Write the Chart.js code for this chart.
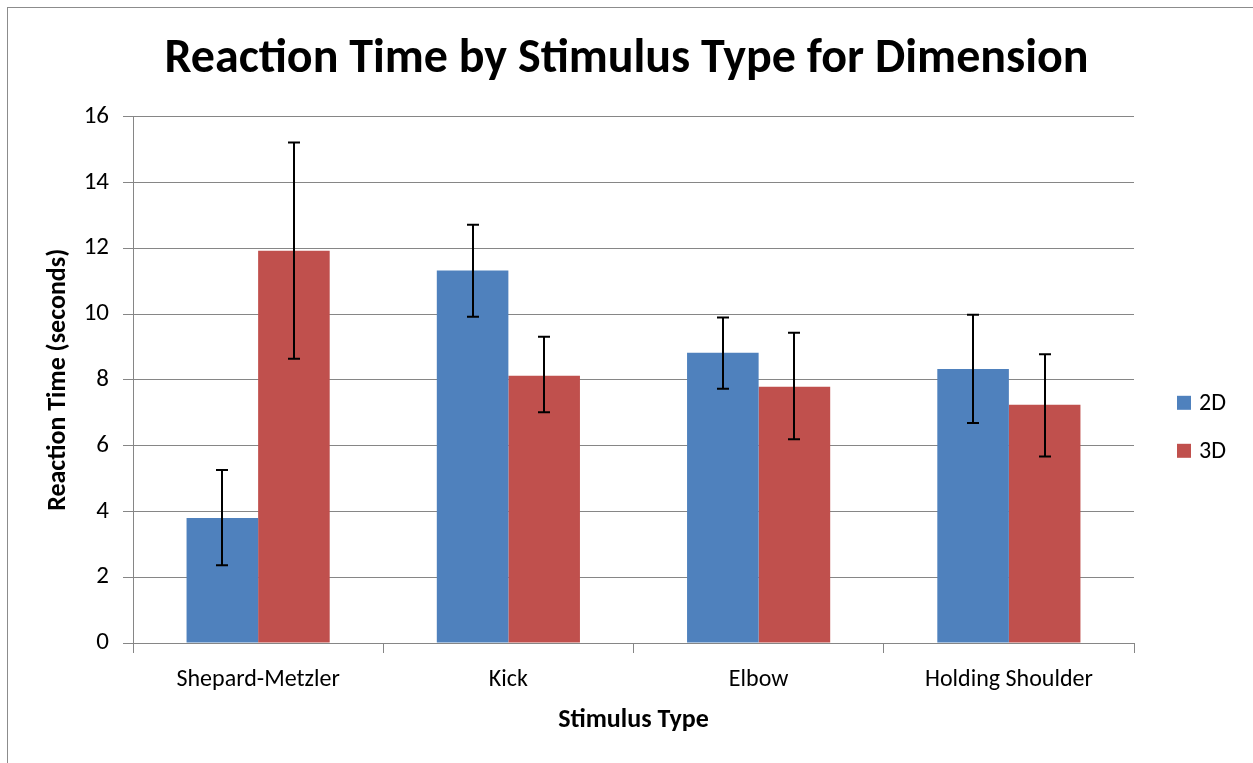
<!DOCTYPE html>
<html>
<head>
<meta charset="utf-8">
<script src="https://cdn.jsdelivr.net/npm/chart.js@4.4.1/dist/chart.umd.min.js"></script>
<style>
html,body{margin:0;padding:0;background:#fff;}
#wrap{position:relative;width:1253px;height:763px;overflow:hidden;}
#frame{position:absolute;left:7px;top:7px;width:1400px;height:900px;border-left:1px solid #8c8c8c;border-top:1px solid #8c8c8c;pointer-events:none;}
canvas{position:absolute;left:0;top:0;}
</style>
</head>
<body>
<div id="wrap">
<canvas id="c" width="1253" height="763"></canvas>
<div id="frame"></div>
</div>
<script>
const categories = ["Shepard-Metzler", "Kick", "Elbow", "Holding Shoulder"];
const seriesNames = ["2D", "3D"];
const values2D = [3.80, 11.32, 8.82, 8.33];
const values3D = [11.92, 8.12, 7.79, 7.24];
const errLow2D = [2.36, 9.92, 7.73, 6.69];
const errHigh2D = [5.26, 12.71, 9.89, 9.98];
const errLow3D = [8.64, 7.01, 6.19, 5.67];
const errHigh3D = [15.21, 9.31, 9.43, 8.78];
const yTicks = [0, 2, 4, 6, 8, 10, 12, 14, 16];

const FONT = "Carlito, Lato, 'Liberation Sans', sans-serif";
const GRID = '#868686';
const colors = ['#4F81BD', '#C0504D'];

const errorBars = {
  id: 'errorBars',
  afterDatasetsDraw(chart) {
    const ctx = chart.ctx;
    const y = chart.scales.y;
    const lows = [errLow2D, errLow3D];
    const highs = [errHigh2D, errHigh3D];
    ctx.save();
    ctx.strokeStyle = '#000';
    ctx.lineWidth = 2;
    chart.data.datasets.forEach((ds, di) => {
      const meta = chart.getDatasetMeta(di);
      meta.data.forEach((bar, i) => {
        const x = Math.round(bar.x);
        const yl = y.getPixelForValue(lows[di][i]);
        const yh = y.getPixelForValue(highs[di][i]);
        ctx.beginPath();
        ctx.moveTo(x, yh); ctx.lineTo(x, yl);
        ctx.moveTo(x - 6, yh); ctx.lineTo(x + 6, yh);
        ctx.moveTo(x - 6, yl); ctx.lineTo(x + 6, yl);
        ctx.stroke();
      });
    });
    ctx.restore();
  }
};

const sideLegend = {
  id: 'sideLegend',
  beforeInit(chart) {
    const box = {
      position: 'right', weight: 1000, fullSize: false, options: {},
      left: 0, top: 0, right: 0, bottom: 0, width: 0, height: 0,
      isHorizontal() { return false; },
      update(maxWidth, maxHeight) { this.width = 119; this.height = maxHeight; },
      draw() {
        const ctx = chart.ctx;
        const area = chart.chartArea;
        const x0 = this.left + 43;
        const midY = (area.top + area.bottom) / 2;
        ctx.save();
        ctx.font = '24px ' + FONT;
        ctx.textBaseline = 'middle';
        ctx.textAlign = 'left';
        chart.data.datasets.forEach((ds, i) => {
          const yy = midY + 23 + i * 48;
          ctx.fillStyle = ds.backgroundColor;
          ctx.fillRect(x0, yy - 7, 14, 14);
          ctx.fillStyle = '#000';
          ctx.fillText(ds.label, x0 + 22, yy + 1);
        });
        ctx.restore();
      }
    };
    Chart.layouts.addBox(chart, box);
  }
};

new Chart(document.getElementById('c'), {
  type: 'bar',
  data: {
    labels: categories,
    datasets: [
      { label: seriesNames[0], data: values2D, backgroundColor: colors[0], borderWidth: 0 },
      { label: seriesNames[1], data: values3D, backgroundColor: colors[1], borderWidth: 0 }
    ]
  },
  options: {
    responsive: false,
    animation: false,
    devicePixelRatio: 1,
    layout: { padding: 0 },
    datasets: { bar: { barPercentage: 1.0, categoryPercentage: 0.572 } },
    plugins: {
      legend: { display: false },
      tooltip: { enabled: false },
      title: {
        display: true,
        text: 'Reaction Time by Stimulus Type for Dimension',
        color: '#000',
        font: { family: FONT, size: 48, weight: 'bold', lineHeight: 1.2 },
        padding: { top: 31, bottom: 28 }
      }
    },
    scales: {
      x: {
        grid: { display: true, drawOnChartArea: false, drawTicks: true, tickLength: 10, color: GRID, offset: true },
        border: { display: true, color: GRID, width: 1 },
        ticks: { color: '#000', font: { family: FONT, size: 24 }, padding: 13, maxRotation: 0 },
        title: { display: true, text: 'Stimulus Type', color: '#000', font: { family: FONT, size: 26, weight: 'bold', lineHeight: 1.2 }, padding: { top: 0, bottom: 27 } },
        afterFit(s) { s.height = 120; }
      },
      y: {
        min: 0, max: 16,
        afterBuildTicks(s) { s.ticks = yTicks.map(v => ({ value: v })); },
        grid: { color: GRID, lineWidth: 1, drawTicks: true, tickLength: 10 },
        border: { display: true, color: GRID, width: 1 },
        ticks: { color: '#000', font: { family: FONT, size: 25 }, padding: 14 },
        title: { display: true, text: 'Reaction Time (seconds)', color: '#000', font: { family: FONT, size: 26, weight: 'bold', lineHeight: 1.2 }, padding: { top: 43, bottom: 0 } },
        afterFit(s) { s.width = 133; }
      }
    }
  },
  plugins: [sideLegend, errorBars]
});
</script>
</body>
</html>
